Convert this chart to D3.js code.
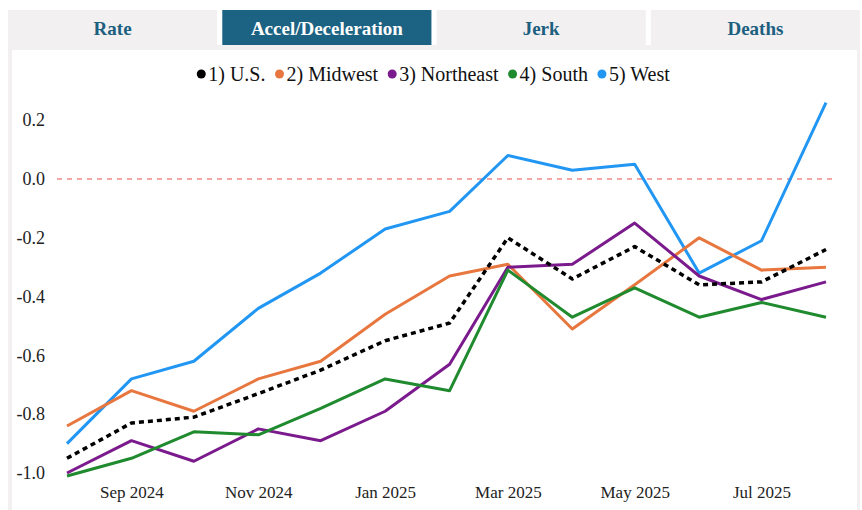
<!DOCTYPE html>
<html>
<head>
<meta charset="utf-8">
<script src="https://cdn.jsdelivr.net/npm/d3@7/dist/d3.min.js"></script>
<style>
  html, body { margin: 0; padding: 0; background: #ffffff; }
  svg { display: block; }
</style>
</head>
<body>
<svg id="chart" width="862" height="510"></svg>
<script>
// ---- data ----
const tabs = ["Rate", "Accel/Deceleration", "Jerk", "Deaths"];
const activeTab = "Accel/Deceleration";
const months = ["2024-08","2024-09","2024-10","2024-11","2024-12","2025-01","2025-02","2025-03","2025-04","2025-05","2025-06","2025-07","2025-08"];
const seriesNames = ["1) U.S.", "2) Midwest", "3) Northeast", "4) South", "5) West"];
const us        = [-0.95, -0.83, -0.81, -0.73, -0.65, -0.55, -0.49, -0.20, -0.34, -0.23, -0.36, -0.35, -0.24];
const midwest   = [-0.84, -0.72, -0.79, -0.68, -0.62, -0.46, -0.33, -0.29, -0.51, -0.36, -0.20, -0.31, -0.30];
const northeast = [-1.00, -0.89, -0.96, -0.85, -0.89, -0.79, -0.63, -0.30, -0.29, -0.15, -0.33, -0.41, -0.35];
const south     = [-1.01, -0.95, -0.86, -0.87, -0.78, -0.68, -0.72, -0.31, -0.47, -0.37, -0.47, -0.42, -0.47];
const west      = [-0.90, -0.68, -0.62, -0.44, -0.32, -0.17, -0.11, 0.08, 0.03, 0.05, -0.32, -0.21, 0.26];
const yTicks = [-1.0, -0.8, -0.6, -0.4, -0.2, 0.0, 0.2];
const xTickLabels = ["2024-09","2024-11","2025-01","2025-03","2025-05","2025-07"];

const colors = ["#000000", "#e8773f", "#7a1a8c", "#1f8a2e", "#2196f3"];
const allSeries = [us, midwest, northeast, south, west];

const FONT = "'Liberation Serif', 'Times New Roman', serif";
const svg = d3.select("#chart");
const W = 862, H = 510;

// ---- tabs ----
const tabX = d3.scaleBand().domain(tabs).range([8, 860]).paddingInner(0.024);
const tabG = svg.append("g");
tabG.selectAll("rect").data(tabs).join("rect")
  .attr("x", d => tabX(d)).attr("y", 10)
  .attr("width", tabX.bandwidth()).attr("height", 35)
  .attr("fill", d => d === activeTab ? "#1b6283" : "#f2f0f1");
tabG.selectAll("text").data(tabs).join("text")
  .attr("x", d => tabX(d) + tabX.bandwidth() / 2).attr("y", 28)
  .attr("text-anchor", "middle").attr("dominant-baseline", "central")
  .style("font-family", FONT).style("font-weight", "bold").style("font-size", "19px")
  .attr("fill", d => d === activeTab ? "#ffffff" : "#1d5f7f")
  .text(d => d);

// ---- panel ----
svg.append("rect").attr("x", 8).attr("y", 45).attr("width", 852).attr("height", H - 45).attr("fill", "#f2f0f1");
svg.append("rect").attr("x", 12).attr("y", 50).attr("width", 845).attr("height", H - 50).attr("fill", "#ffffff");

// ---- scales ----
const parse = d3.timeParse("%Y-%m");
const dates = months.map(parse);
const x = d3.scaleTime().domain([dates[0], dates[dates.length - 1]]).range([67, 826]);
const y = d3.scaleLinear().domain([-1.0, 0.2]).range([473, 120.2]);

// ---- axes ----
const yAxis = d3.axisLeft(y).tickValues(yTicks).tickSize(0).tickPadding(0)
  .tickFormat(d => d.toFixed(1));
const gy = svg.append("g").attr("transform", "translate(45,0)").call(yAxis);
gy.select(".domain").remove();
gy.selectAll("text").style("font-family", FONT).style("font-size", "18px").attr("fill", "#222");

const xAxis = d3.axisBottom(x).tickValues(xTickLabels.map(parse)).tickSize(0).tickPadding(0)
  .tickFormat(d3.timeFormat("%b %Y"));
const gx = svg.append("g").attr("transform", "translate(0,486)").call(xAxis);
gx.select(".domain").remove();
gx.selectAll("text").style("font-family", FONT).style("font-size", "17px").attr("fill", "#222");

// ---- zero line ----
svg.append("line")
  .attr("x1", 57).attr("x2", 833).attr("y1", y(0)).attr("y2", y(0))
  .attr("stroke", "#f08a8a").attr("stroke-width", 1.3).attr("stroke-dasharray", "5,5");

// ---- lines ----
const line = d3.line().x((d, i) => x(dates[i])).y(d => y(d));
const order = [4, 1, 2, 3, 0];
order.forEach(k => {
  svg.append("path")
    .datum(allSeries[k])
    .attr("d", line)
    .attr("fill", "none")
    .attr("stroke", colors[k])
    .attr("stroke-width", k === 0 ? 3.5 : 3)
    .attr("stroke-linejoin", "round")
    .attr("stroke-dasharray", k === 0 ? "5,4" : null);
});

// ---- legend ----
const legend = svg.append("g");
const items = [];
seriesNames.forEach((name, i) => {
  const g = legend.append("g");
  g.append("circle").attr("cx", 0).attr("cy", 0).attr("r", 4.5).attr("fill", colors[i]);
  const t = g.append("text").attr("x", 7).attr("y", 0).attr("dominant-baseline", "central")
    .style("font-family", FONT).style("font-size", "20px").attr("fill", "#111").text(name);
  const w = 7 + t.node().getComputedTextLength();
  items.push({ g, w });
});
const gap = 14;
const total = d3.sum(items, d => d.w) + gap * (items.length - 1);
let cx = 431 - total / 2;
items.forEach(it => {
  it.g.attr("transform", `translate(${cx + 4.5},74)`);
  cx += it.w + gap;
});
</script>
</body>
</html>
